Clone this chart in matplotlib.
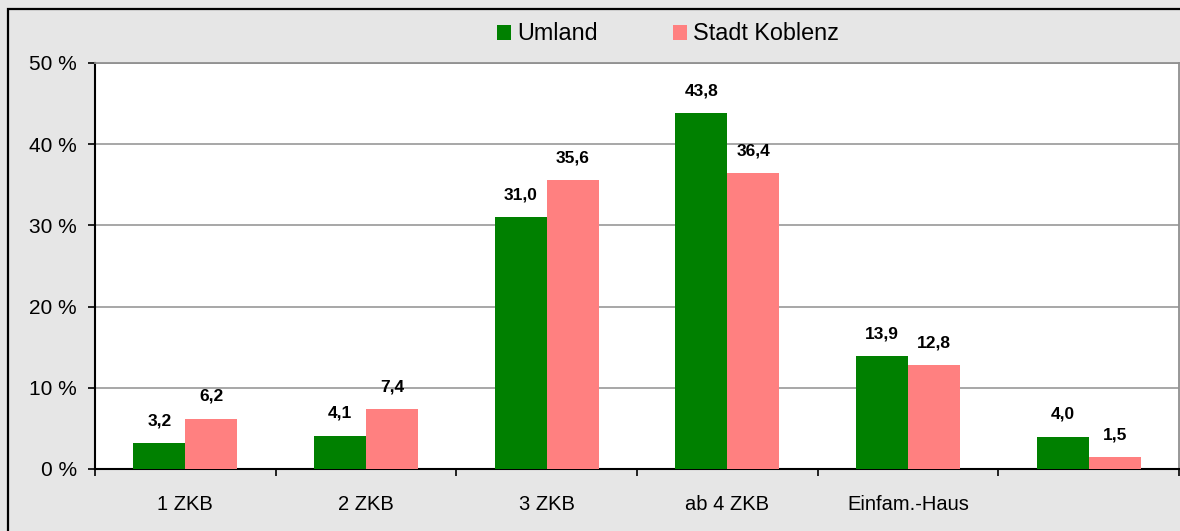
import matplotlib
matplotlib.use("Agg")
import matplotlib.pyplot as plt
import numpy as np
from matplotlib.patches import Rectangle, Patch

categories = ["1 ZKB", "2 ZKB", "3 ZKB", "ab 4 ZKB", "Einfam.-Haus", ""]
umland = [3.2, 4.1, 31.0, 43.8, 13.9, 4.0]
koblenz = [6.2, 7.4, 35.6, 36.4, 12.8, 1.5]
series_names = ["Umland", "Stadt Koblenz"]
yticks = [0, 10, 20, 30, 40, 50]

green = "#008000"
pink = "#FF8080"
bg = "#E6E6E6"

plt.rcParams['font.family'] = ['Liberation Sans', 'DejaVu Sans']

fig = plt.figure(figsize=(11.8, 5.31), dpi=100, facecolor=bg)
ax = fig.add_axes([95/1180, 1-469/531, (1179-95)/1180, (469-63)/531])
ax.set_facecolor("white")

x = np.arange(len(categories))
w = 0.288
b1 = ax.bar(x - w/2, umland, w, color=green, zorder=3)
b2 = ax.bar(x + w/2, koblenz, w, color=pink, zorder=3)

def fmt(v):
    return f"{v:.1f}".replace(".", ",")

for bars, vals in ((b1, umland), (b2, koblenz)):
    for r, v in zip(bars, vals):
        ax.annotate(fmt(v), (r.get_x() + r.get_width()/2, v), xytext=(0, 16),
                    textcoords="offset points", ha="center", va="center",
                    fontsize=12.5, fontweight="bold", zorder=4)

ax.set_xlim(-0.5, len(categories) - 0.5)
ax.set_ylim(0, 50)
ax.set_yticks(yticks)
ax.set_yticklabels([f"{t} %" for t in yticks])
ax.yaxis.grid(True, color="#A0A0A0", linewidth=1.3, zorder=0)
ax.set_xticks(x)
ax.set_xticklabels(categories)
ax.set_xticks(np.arange(-0.5, len(categories)), minor=True)
ax.tick_params(axis="x", which="major", length=0, pad=19, labelsize=14.5)
ax.tick_params(axis="x", which="minor", length=5, width=1.2, direction="out")
ax.tick_params(axis="y", length=5, width=1.2, direction="out", pad=8, labelsize=15)

for s in ("left", "bottom"):
    ax.spines[s].set_color("black")
    ax.spines[s].set_linewidth(1.5)
for s in ("top", "right"):
    ax.spines[s].set_color("#909090")
    ax.spines[s].set_linewidth(1.3)

handles = [Patch(facecolor=green, edgecolor="none"), Patch(facecolor=pink, edgecolor="none")]
fig.legend(handles, series_names, loc="center", bbox_to_anchor=(668/1180, 1-34/531),
           ncol=2, frameon=False, fontsize=16.8, handlelength=0.63, handleheight=0.63,
           handletextpad=0.26, columnspacing=3.2)

fig.patches.append(Rectangle((8/1180, -0.1), 1.2, 1.1 - 9/531, transform=fig.transFigure,
                             fill=False, edgecolor="black", linewidth=1.6))

fig.savefig("out.png", dpi=100, facecolor=bg)
